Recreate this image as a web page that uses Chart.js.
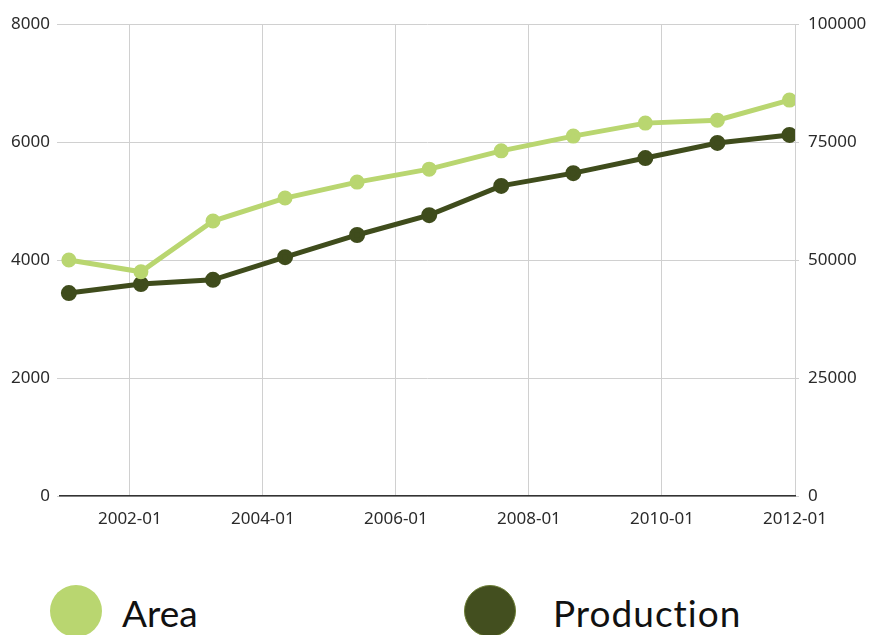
<!DOCTYPE html>
<html>
<head>
<meta charset="utf-8">
<script src="https://cdn.jsdelivr.net/npm/chart.js@4/dist/chart.umd.min.js"></script>
<style>
  body { margin: 0; background: #fff; width: 873px; height: 635px; overflow: hidden; position: relative; }
  #wrap { position: absolute; left: 0; top: 0; width: 873px; height: 560px; }
  .leg { position: absolute; font-family: Lato, "Noto Sans", sans-serif; font-size: 37px; color: #111; line-height: 1; }
  .dot { position: absolute; width: 52px; height: 52px; border-radius: 50%; box-sizing: border-box; }
</style>
</head>
<body>
<div id="wrap"><canvas id="myChart"></canvas></div>
<div class="dot" style="left:50px; top:585px; background:#b9d670;"></div>
<div class="leg" style="left:122px; top:594px;">Area</div>
<div class="dot" style="left:464px; top:585px; background:#434f1f; border:1px solid #6b7d34;"></div>
<div class="leg" style="left:553px; top:594px; letter-spacing:1px;">Production</div>
<script>
const ctx = document.getElementById("myChart");

// fiscal years, read as year-month
const periods = ["2001-02", "2002-03", "2003-04", "2004-05", "2005-06", "2006-07",
                 "2007-08", "2008-09", "2009-10", "2010-11", "2011-12"];
const area = [4000, 3800, 4660, 5050, 5320, 5540, 5850, 6100, 6320, 6370, 6710];
const production = [43000, 44900, 45800, 50600, 55300, 59500, 65700, 68400, 71600, 74800, 76500];
const xTicks = [2002, 2004, 2006, 2008, 2010, 2012];

const toX = (p) => {
    const [y, m] = p.split("-").map(Number);
    return y + (m - 1) / 12;
};
const fmt = (v) => {
    const y = Math.floor(v + 1e-6);
    const m = Math.round((v - y) * 12) + 1;
    return y + "-" + String(m).padStart(2, "0");
};

const tickFont = { family: "'Noto Sans', sans-serif", size: 17 };

new Chart(ctx, {
    type: "line",
    data: {
        datasets: [
            {
                label: "Area",
                data: periods.map((p, i) => ({ x: toX(p), y: area[i] })),
                yAxisID: "y",
                borderColor: "#b9d670",
                backgroundColor: "#b9d670",
                borderWidth: 5,
                pointRadius: 5,
                tension: 0,
            },
            {
                label: "Production",
                data: periods.map((p, i) => ({ x: toX(p), y: production[i] })),
                yAxisID: "y1",
                borderColor: "#3f4c1c",
                backgroundColor: "#3f4c1c",
                borderWidth: 5,
                pointRadius: 5.5,
                tension: 0,
            },
        ],
    },
    options: {
        responsive: true,
        maintainAspectRatio: false,
        animation: false,
        layout: { padding: { top: 24 } },
        plugins: { legend: { display: false }, tooltip: { enabled: false } },
        scales: {
            x: {
                type: "linear",
                min: 2000.95,
                max: 2012,
                afterBuildTicks: (s) => { s.ticks = xTicks.map((v) => ({ value: v })); },
                afterFit: (s) => { s.height = 64; },
                ticks: { callback: (v) => fmt(v), font: tickFont, color: "#2a2a2a", padding: 13, maxRotation: 0 },
                grid: { color: "#d0d0d0", drawTicks: false },
                border: { color: "#333", width: 1.5 },
            },
            y: {
                position: "left",
                min: 0,
                max: 8000,
                afterFit: (s) => { s.width = 60; },
                ticks: { stepSize: 2000, callback: (v) => String(v), font: tickFont, color: "#2a2a2a", padding: 7 },
                grid: { color: "#d0d0d0", tickLength: 3 },
                border: { display: false },
            },
            y1: {
                position: "right",
                min: 0,
                max: 100000,
                afterFit: (s) => { s.width = 78; },
                ticks: { stepSize: 25000, callback: (v) => String(v), font: tickFont, color: "#2a2a2a", padding: 9 },
                grid: { drawOnChartArea: false, color: "#d0d0d0", tickLength: 4 },
                border: { display: false },
            },
        },
    },
});
</script>
</body>
</html>
